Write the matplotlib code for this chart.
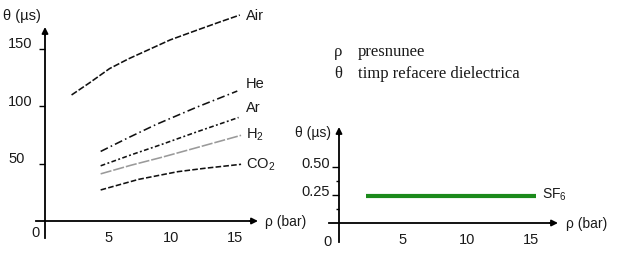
import matplotlib
matplotlib.use("Agg")
import matplotlib.pyplot as plt

# ---------------- data ----------------
air_p = [2.1, 3.5, 5.1, 6.6, 8.3, 9.9, 12.0, 13.8, 15.4]
air_t = [109.6, 120.0, 132.5, 141.0, 149.5, 157.5, 165.9, 173.0, 179.1]
he_p = [4.4, 6.6, 8.8, 12.0, 15.2]
he_t = [60.5, 72.5, 84.0, 99.0, 113.0]
ar_p = [4.4, 6.8, 9.2, 12.0, 15.3]
ar_t = [48.0, 57.5, 66.5, 77.5, 90.0]
h2_p = [4.4, 6.8, 9.2, 12.0, 15.5]
h2_t = [41.0, 48.5, 55.3, 63.8, 74.5]
co2_p = [4.4, 7.4, 10.5, 12.6, 15.5]
co2_t = [27.0, 36.2, 42.9, 45.8, 49.3]
sf6_p = [2.1, 15.4]
sf6_t = [0.24, 0.24]

left_xticks = [5, 10, 15]
left_yticks = [50, 100, 150]
right_xticks = [5, 10, 15]
right_yticks = [0.25, 0.50]
right_yticklabels = ["0.25", "0.50"]

W, H = 619, 273
fig = plt.figure(figsize=(W / 100, H / 100), dpi=100)
fig.patch.set_facecolor("white")
SANS = ["Liberation Sans", "DejaVu Sans"]
SERIF = ["Liberation Serif", "DejaVu Serif"]
TXT = "#1a1a1a"


def add_ax(x0, x1, y0, y1):
    return fig.add_axes([x0 / W, 1 - y1 / H, (x1 - x0) / W, (y1 - y0) / H])


# ---------------- left chart ----------------
lx = lambda px: (px - 45) / 12.65
ly = lambda py: (221 - py) / 1.15
ax1 = add_ax(30, 262, 0, 245)
ax1.set_xlim(lx(30), lx(262))
ax1.set_ylim(ly(245), ly(0))
ax1.patch.set_alpha(0)
for s in ["top", "right"]:
    ax1.spines[s].set_visible(False)
ax1.spines["left"].set_position(("data", 0))
ax1.spines["bottom"].set_position(("data", 0))
ax1.spines["left"].set_bounds(ly(238), ly(33))
ax1.spines["bottom"].set_bounds(lx(36), lx(252))
for s in ["left", "bottom"]:
    ax1.spines[s].set_linewidth(1.3)
ax1.set_xticks(left_xticks)
ax1.set_yticks(left_yticks)
ax1.set_xticklabels([])
ax1.set_yticklabels([])
ax1.tick_params(axis="x", length=0)
ax1.tick_params(axis="y", direction="out", length=4, width=1.0)
ax1.annotate("", xy=(lx(258), 0), xytext=(lx(250), 0),
             arrowprops=dict(arrowstyle="-|>", color="k", lw=1.3,
                             mutation_scale=9, shrinkA=0, shrinkB=0))
ax1.annotate("", xy=(0, ly(27)), xytext=(0, ly(35)),
             arrowprops=dict(arrowstyle="-|>", color="k", lw=1.3,
                             mutation_scale=9, shrinkA=0, shrinkB=0))

curves = [
    (air_p, air_t, "#111111", (0, (4, 1.3)), "Air"),
    (he_p, he_t, "#111111", (0, (5, 2, 1, 2)), "He"),
    (ar_p, ar_t, "#111111", (0, (3, 1.5, 1.2, 1.5)), "Ar"),
    (h2_p, h2_t, "#9a9a9a", (0, (7, 1.2)), r"H$_\mathregular{2}$"),
    (co2_p, co2_t, "#111111", (0, (3.5, 1.4)), r"CO$_\mathregular{2}$"),
]
label_y = {"Air": ly(16), "He": ly(84), "Ar": ly(108),
           r"H$_\mathregular{2}$": ly(135), r"CO$_\mathregular{2}$": ly(165)}
for p, t, c, ls, name in curves:
    ax1.plot(p, t, color=c, lw=1.15, linestyle=ls, clip_on=False)
    ax1.text(lx(246), label_y[name], name, fontsize=10.5, family=SANS,
             color=TXT, ha="left", va="center")

for v in left_xticks:
    ax1.text(v, ly(238), str(v), fontsize=10.5, family=SANS, color=TXT,
             ha="center", va="center")
for v in left_yticks:
    ax1.text(lx(8), v + 3.5, str(v), fontsize=10.5, family=SANS, color=TXT,
             ha="left", va="center")
ax1.text(lx(35), ly(233), "0", fontsize=10.5, family=SANS, color=TXT,
         ha="center", va="center")
ax1.text(lx(3), ly(16), "θ (µs)", fontsize=10.5, family=SANS, color=TXT,
         ha="left", va="center")
ax1.text(lx(265), ly(222), "ρ (bar)", fontsize=10, family=SANS, color=TXT,
         ha="left", va="center", clip_on=False)

# ---------------- right chart ----------------
rx = lambda px: (px - 339) / 12.8
ry = lambda py: (223 - py) / 112
ax2 = add_ax(325, 565, 120, 250)
ax2.set_xlim(rx(325), rx(565))
ax2.set_ylim(ry(250), ry(120))
ax2.patch.set_alpha(0)
for s in ["top", "right"]:
    ax2.spines[s].set_visible(False)
ax2.spines["left"].set_position(("data", 0))
ax2.spines["bottom"].set_position(("data", 0))
ax2.spines["left"].set_bounds(ry(242), ry(133))
ax2.spines["bottom"].set_bounds(rx(329), rx(551))
for s in ["left", "bottom"]:
    ax2.spines[s].set_linewidth(1.3)
ax2.set_xticks(right_xticks)
ax2.set_yticks(right_yticks)
ax2.set_yticks([0.125, 0.375], minor=True)
ax2.set_xticklabels([])
ax2.set_yticklabels([])
ax2.tick_params(axis="x", length=0)
ax2.tick_params(axis="y", which="major", direction="out", length=5, width=1.0)
ax2.tick_params(axis="y", which="minor", direction="out", length=2.5, width=1.0)
ax2.annotate("", xy=(rx(558), 0), xytext=(rx(550), 0),
             arrowprops=dict(arrowstyle="-|>", color="k", lw=1.3,
                             mutation_scale=9, shrinkA=0, shrinkB=0))
ax2.annotate("", xy=(0, ry(127)), xytext=(0, ry(135)),
             arrowprops=dict(arrowstyle="-|>", color="k", lw=1.3,
                             mutation_scale=9, shrinkA=0, shrinkB=0))

ax2.plot(sf6_p, sf6_t, color="#1b8a1b", lw=3.0, solid_capstyle="butt")
ax2.text(rx(542), ry(195), r"SF$_\mathregular{6}$", fontsize=10, family=SANS,
         color=TXT, ha="left", va="center")

for v in right_xticks:
    ax2.text(v, ry(240), str(v), fontsize=10.5, family=SANS, color=TXT,
             ha="center", va="center")
for v, lab in zip(right_yticks, right_yticklabels):
    ax2.text(rx(330), v + 0.03, lab, fontsize=10.5, family=SANS, color=TXT,
             ha="right", va="center")
ax2.text(rx(328), ry(242), "0", fontsize=10.5, family=SANS, color=TXT,
         ha="center", va="center")
ax2.text(rx(295), ry(133), "θ (µs)", fontsize=10, family=SANS, color=TXT,
         ha="left", va="center")
ax2.text(rx(566), ry(224), "ρ (bar)", fontsize=10, family=SANS, color=TXT,
         ha="left", va="center", clip_on=False)

# ---------------- legend-like text ----------------
fig.text(334 / W, 1 - 52 / H, "ρ", fontsize=12, family=SERIF, color=TXT,
         ha="left", va="center")
fig.text(358 / W, 1 - 52 / H, "presnunee", fontsize=12, family=SERIF,
         color=TXT, ha="left", va="center")
fig.text(334 / W, 1 - 74 / H, "θ", fontsize=12, family=SERIF, color=TXT,
         ha="left", va="center")
fig.text(358 / W, 1 - 74 / H, "timp refacere dielectrica", fontsize=12,
         family=SERIF, color=TXT, ha="left", va="center")

fig.savefig("out.png", dpi=100, facecolor="white")
